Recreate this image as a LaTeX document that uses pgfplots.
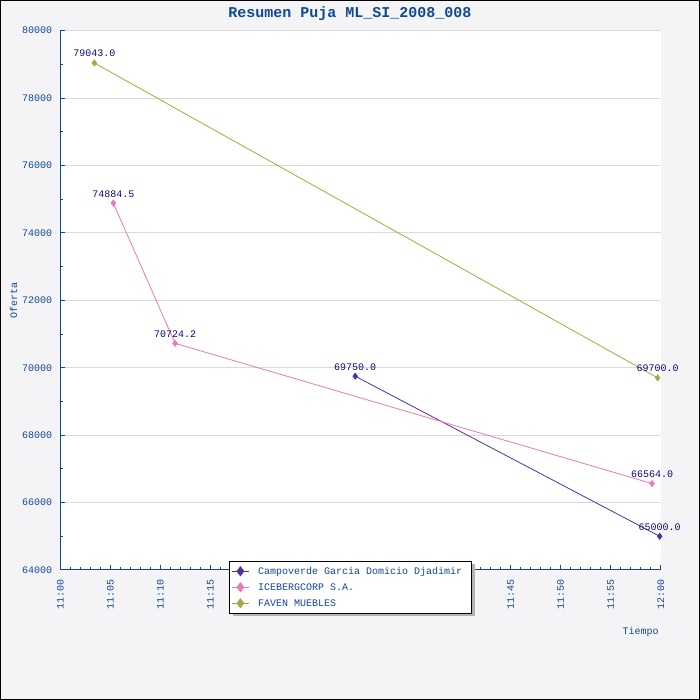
\documentclass[border=0pt]{standalone}
\usepackage{pgfplots}
\pgfplotsset{compat=1.18}
\usepackage{pgfplotstable}
\usepackage{fontspec}
\setmainfont{Liberation Mono}
\usetikzlibrary{shadows}
\definecolor{bgc}{RGB}{244,244,246}
\definecolor{axblue}{RGB}{16,72,148}
\definecolor{navy}{RGB}{10,10,128}
\definecolor{cpurple}{RGB}{85,48,165}
\definecolor{cpink}{RGB}{240,120,182}
\definecolor{colive}{RGB}{170,168,60}
\definecolor{gridc}{RGB}{218,218,218}
\definecolor{shadowc}{RGB}{178,178,178}
\newcommand\tf{\fontsize{10}{12}\selectfont}

\pgfplotstableread{
x y lab
29.47 69750.0 69750.0
59.90 65000.0 65000.0
}\campo
\pgfplotstableread{
x y lab
5.30 74884.5 74884.5
11.47 70724.2 70724.2
59.14 66564.0 66564.0
}\iceberg
\pgfplotstableread{
x y lab
3.40 79043.0 79043.0
59.70 69700.0 69700.0
}\faven

\begin{document}
\begin{tikzpicture}[x=1pt,y=1pt]
\fill[bgc] (0,0) rectangle (700,700);
\useasboundingbox (0,0) rectangle (700,700);
\begin{axis}[
  at={(60.3pt,130pt)}, anchor=south west,
  scale only axis, width=600.4pt, height=539.3pt,
  xmin=0, xmax=60, ymin=64000, ymax=80000,
  clip=false,
  scaled y ticks=false, scaled x ticks=false,
  axis background/.style={fill=white},
  axis x line*=bottom, axis y line*=left,
  axis line style={axblue, line width=1pt},
  xtick={0,5,...,60},
  xticklabels={11:00,11:05,11:10,11:15,11:20,11:25,11:30,11:35,11:40,11:45,11:50,11:55,12:00},
  minor x tick num=4,
  ytick={64000,66000,...,80000},
  yticklabels={64000,66000,68000,70000,72000,74000,76000,78000,80000},
  minor y tick num=1,
  tick align=inside,
  major tick length=5pt, minor tick length=3pt,
  tick style={axblue, line width=1pt},
  ymajorgrids, major grid style={gridc, line width=1pt},
  xticklabel style={font=\tf, text=axblue, rotate=90, anchor=east, inner sep=0pt},
  xticklabel shift=9pt,
  yticklabel style={font=\tf, text=axblue, anchor=east, inner sep=0pt},
  yticklabel shift=8pt,
  every axis title shift=0pt,
  title={\bfseries Resumen Puja ML\_SI\_2008\_008},
  title style={at={(axis description cs:0.4825,1.0236)}, anchor=base, font=\fontsize{15}{18}\selectfont, text=axblue, inner sep=0pt},
  xlabel={Tiempo},
  xlabel style={at={(axis description cs:0.997,-0.1205)}, anchor=base east, font=\tf, text=axblue, inner sep=0pt},
  ylabel={Oferta},
  ylabel style={at={(axis description cs:-0.0779,0.5)}, anchor=center, font=\tf, text=axblue, inner sep=0pt},
  nodes near coords,
  point meta=explicit symbolic,
  every node near coord/.append style={anchor=base, yshift=6pt, inner sep=0pt, font=\tf, text=navy},
  legend cell align=left,
  legend style={at={(axis description cs:0.2815,0.01725)}, anchor=north west,
    draw=black, line width=1pt, fill=white, font=\tf, text=axblue,
    inner xsep=1.7pt, inner ysep=4.3pt, row sep=4.5pt, column sep=8.7pt,
    nodes={inner sep=0pt, text height=9.5pt, text depth=2pt},
    drop shadow={shadow xshift=3pt, shadow yshift=-3pt, fill=shadowc, draw=none, opacity=1}},
  legend image code/.code={\draw[mark repeat=2,mark phase=2,#1,mark size=4.5pt] plot coordinates {(0pt,0pt) (8.5pt,0pt) (17pt,0pt)};},
]
\addplot[cpurple, line width=0.8pt, mark=diamond*, mark size=3pt, mark options={solid}] table[x=x,y=y,meta=lab]{\campo};
\addlegendentry{Campoverde Garcia Domicio Djadimir\hspace*{8pt}}
\addplot[cpink, line width=0.8pt, mark=diamond*, mark size=3pt, mark options={solid}] table[x=x,y=y,meta=lab]{\iceberg};
\addlegendentry{ICEBERGCORP S.A.}
\addplot[colive, line width=0.8pt, mark=diamond*, mark size=3pt, mark options={solid}] table[x=x,y=y,meta=lab]{\faven};
\addlegendentry{FAVEN MUEBLES}
\end{axis}
\draw[black, line width=1pt] (0.5,0.5) rectangle (699.5,699.5);
\end{tikzpicture}
\end{document}
